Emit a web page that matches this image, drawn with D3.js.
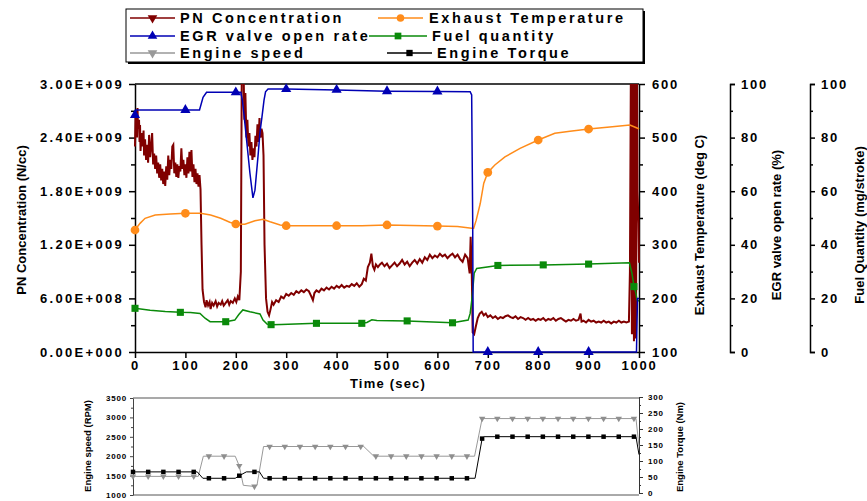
<!DOCTYPE html>
<html>
<head>
<meta charset="utf-8">
<script src="https://cdn.jsdelivr.net/npm/d3@7"></script>
<style>
  body { margin: 0; background: #fff; }
  svg text { font-family: "Liberation Sans", Arial, sans-serif; font-weight: bold; }
</style>
</head>
<body>
<svg id="chart" width="867" height="501"></svg>
<script>
// ---- data ----
// time (sec) ticks and axis ticks
var timeTicks = [0, 100, 200, 300, 400, 500, 600, 700, 800, 900, 1000];
var pnTicks = [0, 0.6, 1.2, 1.8, 2.4, 3.0];          // in 1E+009 N/cc
var tempTicks = [100, 200, 300, 400, 500, 600];
var pctTicks = [0, 20, 40, 60, 80, 100];
var speedTicks = [1000, 1500, 2000, 2500, 3000, 3500];
var torqueTicks = [0, 50, 100, 150, 200, 250, 300];

// PN concentration, [time, 1E+009 N/cc]
var pnData = [
  [0,2.30],[1,2.62],[2,2.45],[3,2.70],[4,2.40],[5,2.73],[6,2.50],[8,2.60],[9,2.35],[10,2.54],
  [11,2.25],[13,2.45],[15,2.30],[17,2.48],[18,2.20],[20,2.38],[22,2.15],[24,2.32],[26,2.12],[28,2.43],
  [30,2.18],[32,2.30],[34,2.45],[36,2.10],[38,2.22],[40,2.05],[42,2.20],[44,2.00],[46,2.12],[48,1.95],
  [50,2.10],[52,1.92],[54,2.05],[56,1.88],[58,2.02],[60,1.86],[62,2.08],[64,1.93],[66,2.20],[68,1.98],
  [70,2.15],[72,2.05],[74,2.30],[76,2.32],[78,2.00],[80,2.12],[82,1.96],[84,2.10],[86,1.95],[88,2.08],
  [90,2.02],[92,2.28],[94,2.05],[96,2.15],[98,1.98],[100,2.10],[102,1.95],[104,2.18],[106,2.00],[108,2.24],
  [110,2.02],[112,2.26],[114,1.96],[116,2.10],[118,1.90],[120,2.05],[122,1.88],[124,2.00],[126,1.85],[128,1.98],
  [130,1.82],[132,1.20],[134,0.70],[137,0.56],[140,0.50],[142,0.58],[145,0.52],[148,0.56],[150,0.48],[153,0.55],
  [156,0.52],[160,0.57],[163,0.51],[166,0.55],[170,0.53],[173,0.57],[176,0.52],[180,0.55],[184,0.58],[187,0.53],
  [190,0.57],[194,0.55],[198,0.60],[201,0.56],[204,0.62],[207,0.58],[210,0.90],[212,3.30],[215,3.30],[217,2.60],
  [219,2.90],[221,2.40],[223,2.60],[225,2.30],[227,2.45],[229,2.20],[231,2.35],[233,2.15],[235,2.28],[237,2.18],
  [239,2.42],[241,2.30],[243,2.55],[245,2.35],[247,2.62],[249,2.40],[251,2.50],[253,2.45],[255,2.20],[257,1.20],
  [260,0.60],[263,0.45],[266,0.41],[269,0.48],[272,0.56],[275,0.53],[280,0.58],[285,0.56],[290,0.62],[295,0.60],
  [300,0.65],[305,0.63],[310,0.66],[315,0.64],[320,0.68],[325,0.66],[330,0.69],[335,0.67],[340,0.70],[345,0.68],
  [350,0.62],[353,0.58],[356,0.66],[360,0.69],[365,0.67],[370,0.71],[375,0.69],[380,0.72],[385,0.70],[390,0.73],
  [395,0.71],[400,0.74],[405,0.72],[410,0.75],[415,0.72],[420,0.74],[425,0.73],[430,0.76],[435,0.74],[440,0.77],
  [445,0.73],[450,0.76],[454,0.82],[458,0.80],[462,0.95],[466,1.00],[469,1.10],[472,0.96],[475,0.92],[478,0.98],
  [482,0.95],[486,0.98],[490,1.00],[495,0.96],[500,0.99],[505,0.94],[510,0.97],[515,1.00],[520,0.96],[525,0.99],
  [530,1.03],[535,0.98],[540,1.01],[545,0.96],[550,1.00],[555,1.03],[560,0.99],[565,1.04],[570,1.00],[575,1.06],
  [580,1.03],[585,1.09],[590,1.05],[595,1.08],[600,1.06],[605,1.10],[610,1.07],[615,1.09],[620,1.05],[625,1.08],
  [630,1.10],[635,1.06],[640,1.09],[645,1.04],[650,1.01],[655,1.09],[660,1.05],[664,0.88],[666,1.29],[668,0.95],
  [670,0.22],[673,0.20],[676,0.28],[680,0.38],[684,0.43],[688,0.45],[692,0.41],[696,0.43],[700,0.39],[705,0.41],
  [710,0.38],[715,0.40],[720,0.37],[725,0.39],[730,0.38],[735,0.40],[740,0.41],[745,0.39],[750,0.38],[755,0.40],
  [760,0.37],[765,0.39],[770,0.38],[775,0.36],[780,0.38],[785,0.36],[790,0.37],[795,0.35],[800,0.37],[805,0.36],
  [810,0.38],[815,0.35],[820,0.37],[825,0.36],[830,0.38],[835,0.35],[840,0.37],[845,0.38],[850,0.36],[855,0.34],
  [860,0.36],[865,0.35],[870,0.37],[875,0.35],[880,0.36],[884,0.43],[886,0.34],[890,0.35],[895,0.33],[900,0.36],
  [905,0.34],[910,0.35],[915,0.33],[920,0.34],[925,0.33],[930,0.35],[935,0.33],[940,0.34],[945,0.32],[950,0.34],
  [955,0.33],[960,0.35],[965,0.33],[970,0.34],[975,0.33],[980,0.34],[982,0.90],[984,3.30],[986,0.20],[988,3.30],
  [990,0.12],[992,3.30],[994,0.15],[996,3.30],[997,1.80],[999,1.45],[1000,1.00]
];

// Exhaust temperature, [time, deg C]
var tempData = [
  [0,327.6],[10,340],[20,349.4],[40,355.6],[70,357.5],[100,358.8],[130,358.8],[150,355.6],[170,349.4],[188,342],
  [200,338.8],[218,338.2],[238,345],[254,347.6],[268,343],[288,337],[300,335.6],[400,335.6],[450,335.6],[500,337],
  [600,335],[640,334],[668,330.8],[672,331],[677,346],[685,377],[692,415],[700,435],[714,449],[734,464],
  [764,480],[800,495.5],[833,508],[863,512],[900,516],[942,520],[982,523.5],[996,518],[1000,516]
];
var tempMarks = [0, 100, 200, 300, 400, 500, 600, 700, 800, 900];

// EGR valve open rate, [time, %]
var egrData = [
  [0,88.4],[2,90.3],[100,90.3],[128,90.3],[135,95],[142,96.9],[200,96.9],[210,96.9],[213,94],[216,89],
  [222,78],[228,66.8],[234,57.5],[238,60.4],[244,72.9],[248,82],[252,87.8],[256,94],[259,97.1],[264,98.1],
  [300,98.1],[400,97.8],[500,97.3],[600,97.2],[665,97.1],[668,95.9],[670,50],[671,0],[700,0],[800,0],
  [900,0],[995,0],[997,20],[1000,20]
];
var egrMarks = [0, 100, 200, 300, 400, 500, 600, 700, 800, 900];

// Fuel quantity, [time, mg/stroke]
var fuelData = [
  [0,16.3],[30,15.6],[60,15.1],[90,14.8],[110,14.7],[129,14.4],[139,12.6],[149,11.3],[180,11.3],[198,11.9],
  [206,14.0],[214,15.7],[228,15.0],[248,14.2],[254,11.9],[262,10.4],[270,10.2],[290,10.3],[360,10.7],[450,10.7],
  [460,11.0],[470,12.0],[480,11.8],[540,11.6],[630,10.9],[661,11.9],[665,14.4],[669,20.6],[673,29.4],[678,31.2],
  [720,32.3],[810,32.5],[900,32.8],[981,33.3],[986,29.4],[990,24.4],[994,21.9],[996,19.4],[1000,19.0]
];
var fuelMarks = [0, 90, 180, 270, 360, 450, 540, 630, 720, 810, 900, 990];

// Engine speed, [time, RPM]
var speedData = [
  [0,1480],[30,1480],[60,1480],[90,1480],[120,1480],[129,1480],[139,2000],[150,2000],[180,2000],[202,2000],
  [210,1750],[218,1250],[240,1220],[245,1250],[258,2250],[270,2250],[300,2250],[330,2250],[360,2250],[390,2250],
  [420,2250],[450,2250],[456,2250],[476,2000],[480,2000],[510,2000],[540,2000],[570,2000],[600,2000],[630,2000],
  [660,2000],[675,2000],[690,2970],[720,2970],[750,2970],[780,2970],[810,2970],[840,2970],[870,2970],[900,2970],
  [930,2970],[960,2970],[990,2970],[994,2970],[1000,2250]
];
// Engine torque, [time, Nm]
var torqueData = [
  [0,66],[30,66],[60,66],[90,66],[120,66],[127,66],[138,46],[150,46],[180,46],[202,46],
  [210,54],[224,66],[240,66],[250,66],[258,46],[270,46],[300,46],[330,46],[360,46],[390,46],
  [420,46],[450,46],[480,46],[510,46],[540,46],[570,46],[600,46],[630,46],[660,46],[676,46],
  [690,170],[694,176],[720,176],[750,176],[780,176],[810,176],[840,176],[870,176],[900,176],[930,176],
  [960,176],[990,176],[994,176],[1000,120]
];
var engineMarks = [0,30,60,90,120,150,180,210,240,270,300,330,360,390,420,450,480,510,540,570,
  600,630,660,690,720,750,780,810,840,870,900,930,960,990];

// ---- drawing ----
var FONT = '"Liberation Sans", Arial, sans-serif';
var svg = d3.select("#chart");
svg.append("rect").attr("width", 867).attr("height", 501).attr("fill", "#fff");

// Scales for the main panel
var x = d3.scaleLinear().domain([0, 1000]).range([135, 639]);
var yPN = d3.scaleLinear().domain([0, 3]).range([352, 84]);
var yTemp = d3.scaleLinear().domain([100, 600]).range([352, 84]);
var yEgr = d3.scaleLinear().domain([0, 100]).range([352, 84]);
var yFuel = d3.scaleLinear().domain([0, 100]).range([352, 84]);

// Scales for the engine panel
var x2 = d3.scaleLinear().domain([0, 1000]).range([133, 639]);
var ySpeed = d3.scaleLinear().domain([1000, 3500]).range([495, 398]);
var yTorque = d3.scaleLinear().domain([0, 300]).range([493, 397]);

var plain = d3.format("d");

function sciLabel(v) {
  var n = v * 1e9;
  if (n === 0) return "0.00E+000";
  var e = Math.floor(Math.log10(n) + 1e-9);
  var m = n / Math.pow(10, e);
  return m.toFixed(2) + "E+" + String(e).padStart(3, "0");
}

function mids(ticks) {
  var out = [];
  for (var i = 0; i < ticks.length - 1; i++) out.push((ticks[i] + ticks[i + 1]) / 2);
  return out;
}

function styleAxis(g, size, spacing, color, width) {
  g.attr("font-family", FONT).attr("font-size", size).attr("font-weight", "bold");
  g.select(".domain").attr("stroke", color).attr("stroke-width", width);
  g.selectAll(".tick line").attr("stroke", color).attr("stroke-width", width);
  g.selectAll(".tick text").attr("fill", "#000").attr("letter-spacing", spacing);
}

function minorAxis(axis, tx, ty, color, width) {
  var g = svg.append("g").attr("transform", "translate(" + tx + "," + ty + ")").call(axis);
  g.select(".domain").remove();
  g.selectAll(".tick line").attr("stroke", color).attr("stroke-width", width);
}

// Left PN axis
var gPN = svg.append("g").attr("transform", "translate(135,0)")
  .call(d3.axisLeft(yPN).tickValues(pnTicks).tickFormat(sciLabel).tickSize(6).tickPadding(5).tickSizeOuter(0));
styleAxis(gPN, 13, "2.3px", "#000", 1.5);
minorAxis(d3.axisLeft(yPN).tickValues(mids(pnTicks)).tickSize(4).tickFormat(""), 135, 0, "#000", 1.5);

// Time axis
var gX = svg.append("g").attr("transform", "translate(0,352)")
  .call(d3.axisBottom(x).tickValues(timeTicks).tickFormat(plain).tickSize(6).tickPadding(3).tickSizeOuter(0));
styleAxis(gX, 13, "1.8px", "#000", 1.5);

// top frame line
svg.append("line").attr("x1", 135).attr("x2", 639).attr("y1", 84).attr("y2", 84)
  .attr("stroke", "#000").attr("stroke-width", 1.5);

// Exhaust temperature axis
var gT = svg.append("g").attr("transform", "translate(639,0)")
  .call(d3.axisRight(yTemp).tickValues(tempTicks).tickSize(6).tickPadding(7).tickSizeOuter(0));
styleAxis(gT, 13, "1.8px", "#000", 1.5);
minorAxis(d3.axisRight(yTemp).tickValues(mids(tempTicks)).tickSize(4).tickFormat(""), 639, 0, "#000", 1.5);

// EGR axis
var gE = svg.append("g").attr("transform", "translate(730,0)")
  .call(d3.axisRight(yEgr).tickValues(pctTicks).tickSize(5).tickPadding(6).tickSizeOuter(5));
styleAxis(gE, 13, "1.8px", "#000", 1.5);
minorAxis(d3.axisRight(yEgr).tickValues(mids(pctTicks)).tickSize(3).tickFormat(""), 730, 0, "#000", 1.5);

// Fuel axis
var gF = svg.append("g").attr("transform", "translate(810,0)")
  .call(d3.axisRight(yFuel).tickValues(pctTicks).tickSize(5).tickPadding(6).tickSizeOuter(5));
styleAxis(gF, 13, "1.8px", "#000", 1.5);
minorAxis(d3.axisRight(yFuel).tickValues(mids(pctTicks)).tickSize(3).tickFormat(""), 810, 0, "#000", 1.5);

// Axis titles
function vTitle(txt, tx, ty, size) {
  svg.append("text").attr("transform", "translate(" + tx + "," + ty + ") rotate(-90)")
    .attr("text-anchor", "middle").attr("font-size", size).attr("fill", "#000").text(txt);
}
vTitle("PN Concentration (N/cc)", 26, 220, 13);
vTitle("Exhaust Temperature (deg C)", 704, 225, 13);
vTitle("EGR valve open rate (%)", 781, 225, 13);
vTitle("Fuel Quantity (mg/stroke)", 864, 225, 13);
svg.append("text").attr("x", 388).attr("y", 388).attr("text-anchor", "middle")
  .attr("font-size", 13).attr("letter-spacing", "1.2px").text("Time (sec)");

// Series
svg.append("clipPath").attr("id", "plotClip").append("rect")
  .attr("x", 133).attr("y", 84).attr("width", 508).attr("height", 270);

function lineOf(xs, ys) {
  return d3.line().x(function (d) { return xs(d[0]); }).y(function (d) { return ys(d[1]); });
}

function drawMarks(data, times, xs, ys, sym, size, color, flip) {
  svg.append("g").selectAll("path")
    .data(data.filter(function (d) { return times.indexOf(d[0]) >= 0; }))
    .join("path")
    .attr("d", d3.symbol().type(sym).size(size))
    .attr("transform", function (d) {
      return "translate(" + xs(d[0]) + "," + ys(d[1]) + ")" + (flip ? " rotate(180)" : "");
    })
    .attr("fill", color);
}

var colPN = "#800000", colTemp = "#ff8c1a", colEgr = "#0000b4", colFuel = "#0a8a0a";
var colSpeed = "#999999", colTorque = "#000000";

svg.append("path").datum(pnData).attr("d", lineOf(x, yPN)).attr("clip-path", "url(#plotClip)")
  .attr("fill", "none").attr("stroke", colPN).attr("stroke-width", 2);
svg.append("path").datum(tempData).attr("d", lineOf(x, yTemp))
  .attr("fill", "none").attr("stroke", colTemp).attr("stroke-width", 1.5);
drawMarks(tempData, tempMarks, x, yTemp, d3.symbolCircle, 60, colTemp, false);
svg.append("path").datum(fuelData).attr("d", lineOf(x, yFuel))
  .attr("fill", "none").attr("stroke", colFuel).attr("stroke-width", 1.5);
drawMarks(fuelData, fuelMarks, x, yFuel, d3.symbolSquare, 50, colFuel, false);
svg.append("path").datum(egrData).attr("d", lineOf(x, yEgr))
  .attr("fill", "none").attr("stroke", colEgr).attr("stroke-width", 1.5);
drawMarks(egrData, egrMarks, x, yEgr, d3.symbolTriangle, 45, colEgr, false);

// ---- engine panel ----
svg.append("line").attr("x1", 133).attr("x2", 639).attr("y1", 398).attr("y2", 398)
  .attr("stroke", "#8c8c8c").attr("stroke-width", 1.5);
svg.append("line").attr("x1", 133).attr("x2", 639).attr("y1", 495).attr("y2", 495)
  .attr("stroke", "#555").attr("stroke-width", 1);

var gS = svg.append("g").attr("transform", "translate(133,0)")
  .call(d3.axisLeft(ySpeed).tickValues(speedTicks).tickFormat(plain).tickSize(3).tickPadding(3).tickSizeOuter(0));
styleAxis(gS, 8, "0.8px", "#444", 1);
minorAxis(d3.axisLeft(ySpeed).tickValues(mids(speedTicks)).tickSize(2).tickFormat(""), 133, 0, "#444", 1);

var gQ = svg.append("g").attr("transform", "translate(639,0)")
  .call(d3.axisRight(yTorque).tickValues(torqueTicks).tickFormat(plain).tickSize(4).tickPadding(5).tickSizeOuter(0));
styleAxis(gQ, 8, "0.8px", "#333", 1);
minorAxis(d3.axisRight(yTorque).tickValues(mids(torqueTicks)).tickSize(2).tickFormat(""), 639, 0, "#333", 1);

vTitle("Engine speed (RPM)", 91, 446, 9.5);
vTitle("Engine Torque (Nm)", 683, 447, 9.5);

svg.append("path").datum(speedData).attr("d", lineOf(x2, ySpeed))
  .attr("fill", "none").attr("stroke", colSpeed).attr("stroke-width", 1);
drawMarks(speedData, engineMarks, x2, ySpeed, d3.symbolTriangle, 18, "#8f8f8f", true);
svg.append("path").datum(torqueData).attr("d", lineOf(x2, yTorque))
  .attr("fill", "none").attr("stroke", colTorque).attr("stroke-width", 1);
drawMarks(torqueData, engineMarks, x2, yTorque, d3.symbolSquare, 20, colTorque, false);

// ---- legend ----
var legend = svg.append("g");
legend.append("rect").attr("x", 128).attr("y", 11).attr("width", 517).attr("height", 53).attr("fill", "#000");
legend.append("rect").attr("x", 126).attr("y", 9).attr("width", 517).attr("height", 53)
  .attr("fill", "#fff").attr("stroke", "#000").attr("stroke-width", 1);

var legendItems = [
  {name: "PN Concentration", color: colPN, sym: d3.symbolTriangle, size: 40, flip: true, x1: 130, x2: 175, tx: 180, y: 18},
  {name: "EGR valve open rate", color: colEgr, sym: d3.symbolTriangle, size: 40, flip: false, x1: 130, x2: 175, tx: 180, y: 36},
  {name: "Engine speed", color: colSpeed, sym: d3.symbolTriangle, size: 40, flip: true, x1: 130, x2: 175, tx: 180, y: 53},
  {name: "Exhaust Temperature", color: colTemp, sym: d3.symbolCircle, size: 45, flip: false, x1: 378, x2: 423, tx: 429, y: 18},
  {name: "Fuel quantity", color: colFuel, sym: d3.symbolSquare, size: 45, flip: false, x1: 369, x2: 427, tx: 432, y: 36},
  {name: "Engine Torque", color: colTorque, sym: d3.symbolSquare, size: 40, flip: false, x1: 387, x2: 432, tx: 437, y: 53}
];
legendItems.forEach(function (it) {
  legend.append("line").attr("x1", it.x1).attr("x2", it.x2).attr("y1", it.y).attr("y2", it.y)
    .attr("stroke", it.color).attr("stroke-width", 1.5);
  legend.append("path").attr("d", d3.symbol().type(it.sym).size(it.size)())
    .attr("transform", "translate(" + ((it.x1 + it.x2) / 2) + "," + it.y + ")" + (it.flip ? " rotate(180)" : ""))
    .attr("fill", it.color);
  legend.append("text").attr("x", it.tx).attr("y", it.y + 5).attr("font-size", 14.5)
    .attr("letter-spacing", "2.6px").attr("fill", "#000").text(it.name);
});
</script>
</body>
</html>
